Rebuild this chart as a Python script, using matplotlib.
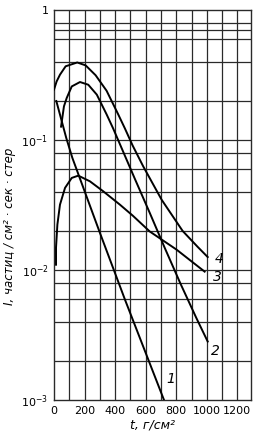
# plot.py - интенсивность частиц в зависимости от толщины слоя
import matplotlib
matplotlib.use("Agg")
import matplotlib.pyplot as plt
from matplotlib.ticker import FixedLocator, NullLocator

# кривая 1
t1 = [15, 80, 120, 300, 465, 720]
i1 = [0.20, 0.104, 0.073, 0.0194, 0.0059, 0.001]

# кривая 2
t2 = [46, 65, 83, 116, 170, 224, 280, 344, 387, 442, 530, 627, 725, 830,
      932, 1006]
i2 = [0.127, 0.182, 0.211, 0.259, 0.280, 0.267, 0.224, 0.158, 0.123, 0.0871,
      0.0501, 0.0275, 0.0148, 0.00776, 0.00427, 0.00282]

# кривая 3
t3 = [13, 13, 22, 39, 72, 116, 159, 235, 322, 431, 516, 627, 801, 986]
i3 = [0.0110, 0.0149, 0.0224, 0.0319, 0.0429, 0.0512, 0.0533, 0.0482,
      0.0404, 0.0319, 0.0262, 0.0198, 0.0144, 0.00973]

# кривая 4
t4 = [0, 17, 39, 76, 152, 207, 272, 344, 420, 464, 514, 583, 705, 842,
      940, 1006]
i4 = [0.245, 0.283, 0.319, 0.370, 0.396, 0.376, 0.316, 0.240, 0.158, 0.123,
      0.0912, 0.0631, 0.0347, 0.0200, 0.0151, 0.0126]

curve_names = ["1", "2", "3", "4"]
label_t = [736, 1030, 1041, 1052]
label_i = [0.00144, 0.00237, 0.0089, 0.01225]

x_ticks = [0, 200, 400, 600, 800, 1000, 1200]
x_grid = [100, 200, 300, 400, 500, 600, 700, 800, 900, 1000, 1100, 1200]
y_ticks = [1e-3, 1e-2, 1e-1, 1]
y_tick_labels = [r"$10^{-3}$", r"$10^{-2}$", r"$10^{-1}$", "1"]
y_grid = [0.002, 0.004, 0.006, 0.008, 0.01,
          0.02, 0.04, 0.06, 0.08, 0.1,
          0.2, 0.4, 0.6, 0.7, 0.8]

fig = plt.figure(figsize=(2.61, 4.43), dpi=100)
ax = fig.add_axes([0.207, 0.097, 0.755, 0.880])
ax.set_yscale("log")
ax.set_xlim(0, 1290)
ax.set_ylim(1e-3, 1)

grid_col = "#2a2a2a"
for g in x_grid:
    ax.axvline(g, color=grid_col, lw=0.9, zorder=1)
for g in y_grid:
    ax.axhline(g, color=grid_col, lw=0.9, zorder=1)

for t, i in [(t1, i1), (t2, i2), (t3, i3), (t4, i4)]:
    ax.plot(t, i, color="black", lw=1.4, zorder=3, solid_joinstyle="round")

for name, tx, ty in zip(curve_names, label_t, label_i):
    ax.text(tx, ty, name, fontsize=10, style="italic", ha="left", va="center",
            zorder=4)

ax.xaxis.set_major_locator(FixedLocator(x_ticks))
ax.yaxis.set_major_locator(FixedLocator(y_ticks))
ax.yaxis.set_minor_locator(NullLocator())
ax.set_yticklabels(y_tick_labels)
ax.tick_params(length=0, labelsize=8, pad=4)
for sp in ax.spines.values():
    sp.set_linewidth(1.0)
    sp.set_color(grid_col)

ax.set_xlabel("t, г/см²", fontsize=9, style="italic", labelpad=2)
fig.text(0.035, 0.49, "I, частиц / см² · сек · стер", rotation=90,
         fontsize=8.5, style="italic", ha="center", va="center")

fig.savefig("out.png", dpi=100)
